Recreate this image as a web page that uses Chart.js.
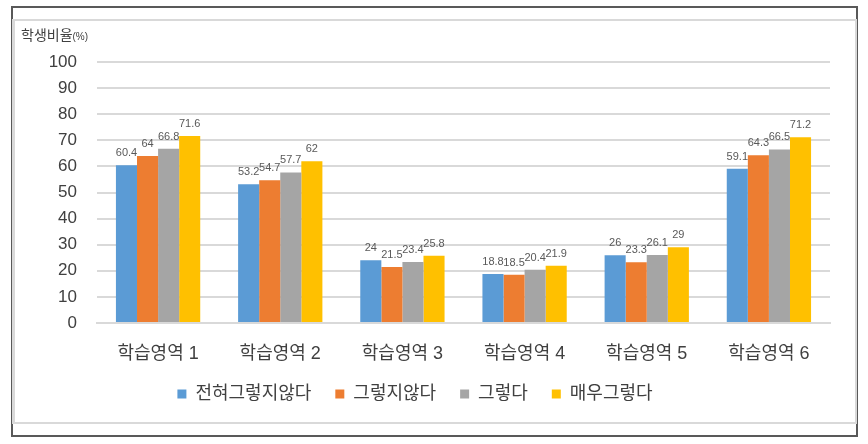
<!DOCTYPE html>
<html>
<head>
<meta charset="utf-8">
<script src="https://cdn.jsdelivr.net/npm/chart.js@4.4.1/dist/chart.umd.min.js"></script>
<style>
  html, body { margin: 0; padding: 0; background: #fff; }
  #wrap { position: relative; width: 868px; height: 444px; }
  #outer { position: absolute; left: 11px; top: 6px; width: 843px; height: 427px; border: 2px solid #595959; }
  #inner { position: absolute; left: 12px; top: 19px; width: 840px; height: 401px; border: 2px solid #d9d9d9; border-left-width: 3px; }
  canvas { position: absolute; left: 0; top: 0; }
</style>
</head>
<body>
<div id="wrap">
  <div id="outer"></div>
  <div id="inner"></div>
  <canvas id="chart" width="868" height="444"></canvas>
</div>
<script>
const categories = ['학습영역 1', '학습영역 2', '학습영역 3', '학습영역 4', '학습영역 5', '학습영역 6'];
const seriesNames = ['전혀그렇지않다', '그렇지않다', '그렇다', '매우그렇다'];
const notAtAll = [60.4, 53.2, 24, 18.8, 26, 59.1];
const notReally = [64, 54.7, 21.5, 18.5, 23.3, 64.3];
const agree = [66.8, 57.7, 23.4, 20.4, 26.1, 66.5];
const stronglyAgree = [71.6, 62, 25.8, 21.9, 29, 71.2];
const yTicks = [0, 10, 20, 30, 40, 50, 60, 70, 80, 90, 100];

const colors = ['#5B9BD5', '#ED7D31', '#A5A5A5', '#FFC000'];
const FONT = '"Liberation Sans", "Noto Sans CJK KR", sans-serif';

// value labels above each bar
const valueLabels = {
    id: 'valueLabels',
    afterDatasetsDraw(chart) {
        const ctx = chart.ctx;
        ctx.save();
        ctx.font = '11px ' + FONT;
        ctx.fillStyle = '#595959';
        ctx.textAlign = 'center';
        ctx.textBaseline = 'middle';
        chart.data.datasets.forEach((ds, i) => {
            chart.getDatasetMeta(i).data.forEach((bar, j) => {
                ctx.fillText(String(ds.data[j]), bar.x, bar.y - 12);
            });
        });
        ctx.restore();
    }
};

// axis title in the top-left corner
const axisTitle = {
    id: 'axisTitle',
    afterDraw(chart) {
        const ctx = chart.ctx;
        ctx.save();
        ctx.fillStyle = '#404040';
        ctx.textBaseline = 'middle';
        ctx.textAlign = 'left';
        ctx.font = '14px ' + FONT;
        ctx.fillText('학생비율', 21, 36);
        const w = ctx.measureText('학생비율').width;
        ctx.font = '10px ' + FONT;
        ctx.fillText('(%)', 21 + w, 37);
        ctx.restore();
    }
};

const datasets = [notAtAll, notReally, agree, stronglyAgree].map((data, i) => ({
    label: seriesNames[i],
    data,
    backgroundColor: colors[i],
    borderWidth: 0,
    categoryPercentage: 0.69,
    barPercentage: 1
}));

new Chart(document.getElementById('chart'), {
    type: 'bar',
    data: { labels: categories, datasets },
    plugins: [valueLabels, axisTitle],
    options: {
        responsive: false,
        animation: false,
        layout: { padding: { top: 62, right: 38, bottom: 31, left: 0 } },
        plugins: {
            tooltip: { enabled: false },
            legend: {
                position: 'bottom',
                labels: {
                    boxWidth: 9,
                    boxHeight: 9,
                    padding: 24,
                    color: '#404040',
                    font: { family: FONT, size: 18 }
                }
            }
        },
        scales: {
            x: {
                grid: { display: false },
                border: { display: true, color: '#d9d9d9', width: 2 },
                ticks: { color: '#404040', padding: 12, font: { family: FONT, size: 18 } },
                afterFit(scale) { scale.height = 38; }
            },
            y: {
                min: 0,
                max: 100,
                afterBuildTicks(scale) { scale.ticks = yTicks.map(v => ({ value: v })); },
                grid: { color: '#d9d9d9', lineWidth: 2, drawTicks: false },
                border: { display: false },
                ticks: { color: '#404040', padding: 20, font: { family: FONT, size: 17 } },
                afterFit(scale) { scale.width = 97; }
            }
        }
    }
});
</script>
</body>
</html>
